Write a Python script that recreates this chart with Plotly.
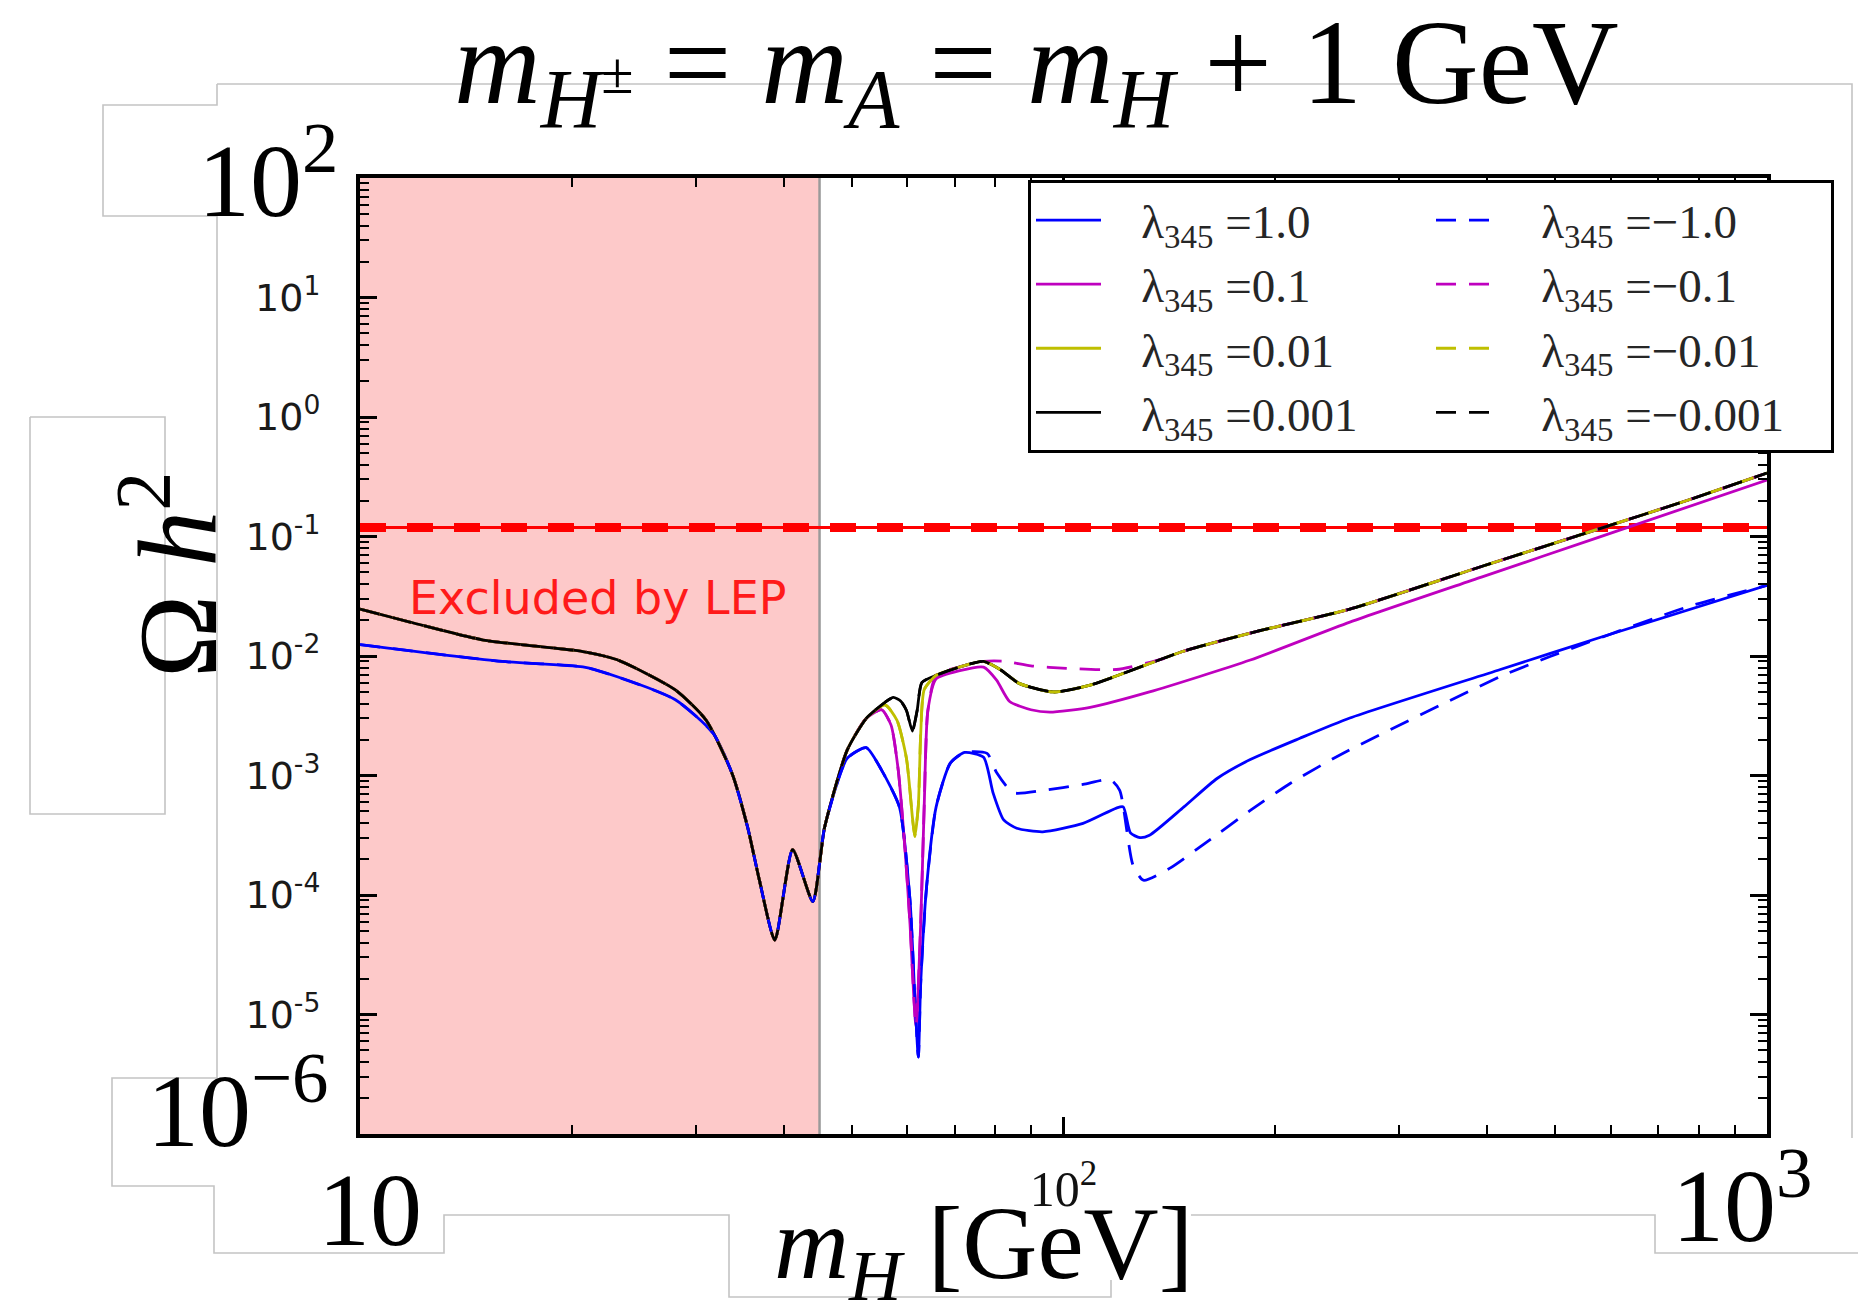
import numpy as np
import plotly.graph_objects as go

# Relic abundance of the inert scalar H versus its mass, for several values of lambda_345
# (m_H+- = m_A = m_H + 1 GeV).  Masses in GeV, abundances as Omega h^2.

M_BLUE = [10.0, 15.93, 20.74, 23.21, 28.07, 31.78, 33.82, 35.56, 36.96, 38.88, 41.21, 44.02, 45.76,
          49.26, 52.42, 55.13, 58.44, 60.51, 61.45, 62.18, 62.66, 63.89, 65.91, 69.04, 72.33, 76.98,
          79.40, 82.22, 85.81, 93.44, 106.6, 118.9, 121.6, 124.5, 128.4, 132.5, 148.3, 165.3, 184.3,
          216.8, 255.3, 417.8, 578.7, 1000]
O_BLUE = [0.01245, 0.0090, 0.0081, 0.0067, 0.0043, 0.00225, 0.00103, 0.00037, 0.000133, 4.2e-5,
          0.00024, 8.8e-5, 0.00037, 0.00139, 0.00171, 0.00111, 0.000546, 9.0e-5, 1.45e-5, 4.4e-6,
          1.82e-5, 0.000118, 0.000546, 0.00127, 0.00156, 0.00142, 0.000718, 0.000425, 0.000362,
          0.000338, 0.000397, 0.000534, 0.000546, 0.000331, 0.000302, 0.000316, 0.000546, 0.000944,
          0.00136, 0.00205, 0.00303, 0.00771, 0.01428, 0.0390]

M_BLUE_NEG = [10.0, 15.93, 20.74, 23.21, 28.07, 31.78, 33.82, 35.56, 36.96, 38.88, 41.21, 44.02, 45.76,
              49.26, 52.42, 55.13, 58.44, 60.51, 61.45, 62.18, 62.66, 63.89, 65.91, 69.04, 72.33, 77.87,
              80.33, 84.82, 93.44, 106.6, 116.6, 120.2, 125.5, 129.9, 141.5, 159.6, 184.3, 210.2, 249.4,
              417.8, 491.7, 771.3, 1000]
O_BLUE_NEG = [0.01245, 0.0090, 0.0081, 0.0067, 0.0043, 0.00225, 0.00103, 0.00037, 0.000133, 4.2e-5,
              0.00024, 8.8e-5, 0.00037, 0.00139, 0.00171, 0.00111, 0.000546, 9.0e-5, 1.45e-5, 4.4e-6,
              1.82e-5, 0.000118, 0.000546, 0.00127, 0.00156, 0.00153, 0.00106, 0.000718, 0.00075,
              0.000843, 0.000923, 0.000752, 0.000179, 0.000133, 0.000167, 0.000276, 0.000510, 0.000862,
              0.00153, 0.00673, 0.0099, 0.0258, 0.0390]

M_MAGENTA = [10.0, 11.95, 14.97, 20.74, 23.21, 28.07, 31.05, 33.82, 35.56, 36.96, 38.88, 41.21, 44.02,
             45.76, 49.26, 52.42, 55.13, 56.87, 58.22, 59.58, 60.51, 61.70, 62.66, 63.39, 64.14, 65.91,
             71.22, 76.98, 80.33, 83.83, 89.88, 95.64, 109.1, 132.5, 184.3, 255.3, 392.7, 578.7, 1000]
O_MAGENTA = [0.0247, 0.0188, 0.0136, 0.0109, 0.0093, 0.0052, 0.0029, 0.00103, 0.00037, 0.000133, 4.2e-5,
             0.00024, 8.8e-5, 0.00037, 0.00163, 0.0030, 0.00355, 0.00264, 0.00111, 0.000224, 5.7e-5,
             8.0e-6, 5.7e-5, 0.000559, 0.00347, 0.00643, 0.00754, 0.00807, 0.00628, 0.00416, 0.00355,
             0.00339, 0.00372, 0.0050, 0.00925, 0.0192, 0.0457, 0.0993, 0.297]

M_MAGENTA_NEG = [10.0, 11.95, 14.97, 20.74, 23.21, 28.07, 31.05, 33.82, 35.56, 36.96, 38.88, 41.21, 44.02,
                 45.76, 49.26, 52.42, 55.13, 56.87, 58.22, 59.58, 60.51, 61.70, 62.66, 63.39, 64.14, 65.91,
                 71.22, 76.98, 82.22, 89.88, 100.97, 118.9, 140.4, 147.7, 187.8, 255.3, 392.7, 578.7,
                 771.3, 1000]
O_MAGENTA_NEG = [0.0247, 0.0188, 0.0136, 0.0109, 0.0093, 0.0052, 0.0029, 0.00103, 0.00037, 0.000133,
                 4.2e-5, 0.00024, 8.8e-5, 0.00037, 0.00163, 0.0030, 0.00355, 0.00264, 0.00111, 0.000224,
                 5.7e-5, 8.0e-6, 5.7e-5, 0.000559, 0.00347, 0.0069, 0.0081, 0.0090, 0.00904, 0.00826,
                 0.00789, 0.00771, 0.00968, 0.0109, 0.0160, 0.0247, 0.0561, 0.1165, 0.201, 0.340]

M_YELLOW = [10.0, 11.95, 14.97, 20.74, 23.21, 28.07, 31.05, 33.82, 35.56, 36.96, 38.88, 41.21, 44.02,
            45.76, 49.26, 52.42, 55.77, 57.99, 59.81, 60.99, 61.45, 62.18, 62.66, 63.39, 65.91, 71.22,
            76.98, 81.27, 86.48, 96.76, 109.1, 147.7, 187.8, 255.3, 392.7, 578.7, 771.3, 1000]
O_YELLOW = [0.0247, 0.0188, 0.0136, 0.0109, 0.0093, 0.0052, 0.0029, 0.00103, 0.00037, 0.000133, 4.2e-5,
            0.00024, 8.8e-5, 0.00037, 0.00163, 0.0030, 0.00389, 0.00289, 0.00139, 0.000445, 0.000309,
            0.000559, 0.0022, 0.00523, 0.0069, 0.0081, 0.0090, 0.0077, 0.0059, 0.0050, 0.0057, 0.0109,
            0.0160, 0.0247, 0.0561, 0.1165, 0.201, 0.340]

M_BLACK = [10.0, 11.95, 14.97, 20.74, 23.21, 28.07, 31.05, 33.82, 35.56, 36.96, 38.88, 41.21, 44.02,
           45.76, 49.26, 52.42, 55.77, 57.31, 58.67, 59.81, 60.99, 61.94, 62.91, 65.91, 71.22, 76.98,
           81.27, 86.48, 96.76, 109.1, 147.7, 187.8, 255.3, 392.7, 578.7, 771.3, 1000]
O_BLACK = [0.0247, 0.0188, 0.0136, 0.0109, 0.0093, 0.0052, 0.0029, 0.00103, 0.00037, 0.000133, 4.2e-5,
           0.00024, 8.8e-5, 0.00037, 0.00163, 0.0030, 0.0041, 0.0045, 0.0042, 0.0035, 0.00235, 0.0035,
           0.0060, 0.0069, 0.0081, 0.0090, 0.0077, 0.0059, 0.0050, 0.0057, 0.0109, 0.0160, 0.0247,
           0.0561, 0.1165, 0.201, 0.340]

LAMBDA_LABELS = ["1.0", "0.1", "0.01", "0.001"]
COLORS = ["#0000ff", "#bf00bf", "#bfbf00", "#000000"]

OMEGA_PLANCK = 0.1187          # observed relic abundance
LEP_LIMIT = 45.0               # m_H below this is excluded by LEP
X_RANGE = [10, 1000]
Y_RANGE = [1e-6, 1e2]
Y_MAJOR = [1e-6, 1e-5, 1e-4, 1e-3, 1e-2, 1e-1, 1e0, 1e1, 1e2]
Y_TICKTEXT = ["", "10<sup>-5</sup>", "10<sup>-4</sup>", "10<sup>-3</sup>", "10<sup>-2</sup>",
              "10<sup>-1</sup>", "10<sup>0</sup>", "10<sup>1</sup>", ""]
X_MAJOR = [10, 100, 1000]
X_TICKTEXT = ["", "10<sup>2</sup>", ""]

# ---- page geometry ----
W, H = 1858, 1306
ML, MR, MT, MB = 360, 91, 178, 172
PW, PH = W - ML - MR, H - MT - MB


def px(x):
    return (x - ML) / PW


def py(y):
    return 1 - (y - MT) / PH


SERIF = "Liberation Serif"
SANS = "DejaVu Sans"
DASH = "20px,13px"
PAD = "\u00a0\u00a0\u00a0"

fig = go.Figure()

# Planck band: thin solid line under a thick dashed one
fig.add_trace(go.Scatter(x=X_RANGE, y=[OMEGA_PLANCK] * 2, mode="lines",
                         line=dict(color="#ff0000", width=3), showlegend=False, hoverinfo="skip"))
fig.add_trace(go.Scatter(x=X_RANGE, y=[OMEGA_PLANCK] * 2, mode="lines",
                         line=dict(color="#ff0000", width=9, dash="26px,21px"),
                         showlegend=False, hoverinfo="skip"))

curves_pos = [(M_BLUE, O_BLUE), (M_MAGENTA, O_MAGENTA), (M_YELLOW, O_YELLOW), (M_BLACK, O_BLACK)]
curves_neg = [(M_BLUE_NEG, O_BLUE_NEG), (M_MAGENTA_NEG, O_MAGENTA_NEG), (M_YELLOW, O_YELLOW),
              (M_BLACK, O_BLACK)]

for i, (m, om) in enumerate(curves_pos):
    fig.add_trace(go.Scatter(x=m, y=om, mode="lines",
                             name=PAD + "λ<sub>345</sub> =" + LAMBDA_LABELS[i],
                             line=dict(color=COLORS[i], width=2.8, shape="spline", smoothing=0.6),
                             legendrank=2 * i + 1))
for i, (m, om) in enumerate(curves_neg):
    fig.add_trace(go.Scatter(x=m, y=om, mode="lines",
                             name=PAD + "λ<sub>345</sub> =−" + LAMBDA_LABELS[i],
                             line=dict(color=COLORS[i], width=2.8, dash=DASH, shape="spline",
                                       smoothing=0.6),
                             legendrank=2 * i + 2))

# LEP-excluded region
shapes = [
    dict(type="rect", xref="x", yref="paper", x0=X_RANGE[0], x1=LEP_LIMIT, y0=0, y1=1,
         fillcolor="#fdc9c9", line=dict(width=0), layer="below"),
    dict(type="line", xref="x", yref="paper", x0=LEP_LIMIT, x1=LEP_LIMIT, y0=0, y1=1,
         line=dict(color="#9a9a9a", width=2.5), layer="below"),
]

# light grey outline frames around the page labels
frame_paths = [
    [(217, 84), (1852, 84), (1852, 1138)],
    [(217, 84), (217, 105), (103, 105), (103, 216), (217, 216), (217, 1078), (112, 1078), (112, 1186),
     (214, 1186), (214, 1253), (444, 1253), (444, 1215), (729, 1215), (729, 1297), (1111, 1297),
     (1111, 1280)],
    [(1191, 1215), (1655, 1215), (1655, 1253), (1858, 1253)],
    [(30, 417), (165, 417), (165, 814), (30, 814), (30, 417)],
]
for pts in frame_paths:
    d = "M" + " L".join(f"{px(a):.5f},{py(b):.5f}" for a, b in pts)
    shapes.append(dict(type="path", xref="paper", yref="paper", path=d,
                       line=dict(color="#c4c4c4", width=1.6), layer="above"))

BIG = dict(family=SERIF, size=104, color="black")
annotations = [
    dict(text="<i>m</i><sub><i>H</i><sup>±</sup></sub> = <i>m</i><sub><i>A</i></sub> = "
              "<i>m</i><sub><i>H</i></sub> + 1 GeV",
         x=px(1036), y=py(71), xref="paper", yref="paper", showarrow=False,
         font=dict(family=SERIF, size=120, color="black"), xanchor="center", yanchor="middle"),
    dict(text="Ω <i>h</i><sup>2</sup>", x=px(169), y=py(575), xref="paper", yref="paper",
         showarrow=False, textangle=-90, font=dict(family=SERIF, size=112, color="black"),
         xanchor="center", yanchor="middle"),
    dict(text="<i>m</i><sub><i>H</i></sub> [GeV]", x=px(983), y=py(1250), xref="paper", yref="paper",
         showarrow=False, font=BIG, xanchor="center", yanchor="middle"),
    dict(text="10<sup>2</sup>", x=px(268), y=py(172), xref="paper", yref="paper", showarrow=False,
         font=BIG, xanchor="center", yanchor="middle"),
    dict(text="10<sup>−6</sup>", x=px(237), y=py(1102), xref="paper", yref="paper", showarrow=False,
         font=BIG, xanchor="center", yanchor="middle"),
    dict(text="10", x=px(370), y=py(1209), xref="paper", yref="paper", showarrow=False,
         font=BIG, xanchor="center", yanchor="middle"),
    dict(text="10<sup>3</sup>", x=px(1742), y=py(1197), xref="paper", yref="paper", showarrow=False,
         font=BIG, xanchor="center", yanchor="middle"),
    dict(text="Excluded by LEP", x=np.log10(21.76), y=np.log10(0.0306), xref="x", yref="y",
         showarrow=False, font=dict(family=SANS, size=46, color="#ff1a1a"),
         xanchor="center", yanchor="middle"),
]

x_minor = [k * 10 ** e for e in (1, 2) for k in range(2, 10)]
y_minor = [k * 10.0 ** e for e in range(-6, 2) for k in range(2, 10)]

axis_common = dict(type="log", showgrid=False, zeroline=False, showline=True, linecolor="black",
                   linewidth=4, mirror="allticks", ticks="inside", ticklen=17, tickwidth=2.5,
                   tickcolor="black")

fig.update_layout(
    width=W, height=H, autosize=False,
    margin=dict(l=ML, r=MR, t=MT, b=MB, autoexpand=False),
    paper_bgcolor="white", plot_bgcolor="white",
    xaxis=dict(**axis_common, range=[np.log10(X_RANGE[0]), np.log10(X_RANGE[1])],
               tickmode="array", tickvals=X_MAJOR, ticktext=X_TICKTEXT,
               tickfont=dict(family=SERIF, size=50, color="#111"), ticklabelstandoff=8,
               minor=dict(tickmode="array", tickvals=x_minor, ticks="inside", ticklen=9,
                          tickwidth=2, tickcolor="black", showgrid=False)),
    yaxis=dict(**axis_common, range=[np.log10(Y_RANGE[0]), np.log10(Y_RANGE[1])],
               tickmode="array", tickvals=Y_MAJOR, ticktext=Y_TICKTEXT,
               tickfont=dict(family=SANS, size=38, color="#1a1a1a"), ticklabelstandoff=28,
               minor=dict(tickmode="array", tickvals=y_minor, ticks="inside", ticklen=9,
                          tickwidth=2, tickcolor="black", showgrid=False)),
    legend=dict(orientation="h", x=px(1834), y=py(180), xanchor="right", yanchor="top",
                bgcolor="white", bordercolor="black", borderwidth=3,
                font=dict(family=SERIF, size=47, color="#262626"),
                entrywidth=320, entrywidthmode="pixels", itemwidth=65, traceorder="normal"),
    shapes=shapes,
    annotations=annotations,
    showlegend=True,
)

fig.write_html("out.html")
